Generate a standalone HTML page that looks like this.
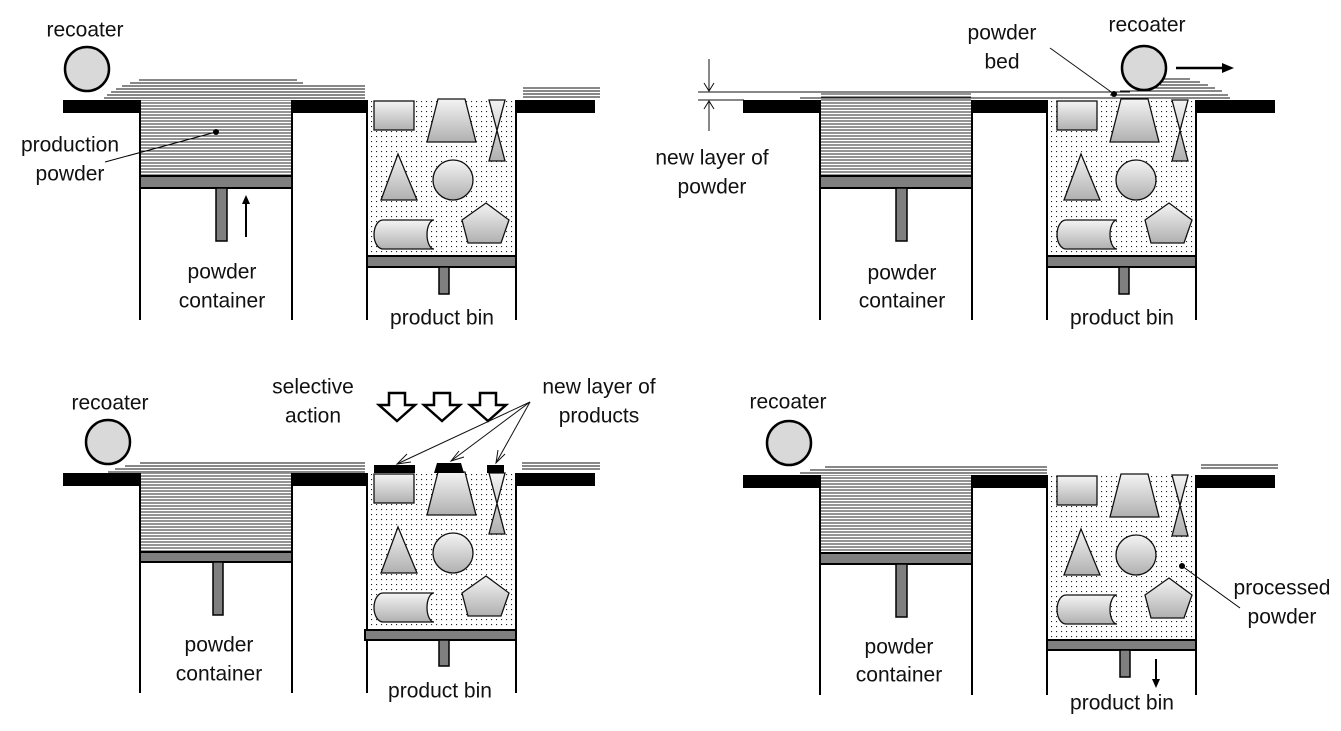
<!DOCTYPE html>
<html><head><meta charset="utf-8"><style>
html,body{margin:0;padding:0;background:#fff;}
svg{display:block;}
text{font-family:"Liberation Sans",sans-serif;font-size:21px;fill:#111;text-anchor:middle;dominant-baseline:central;}
</style></head><body>
<svg width="1341" height="731" viewBox="0 0 1341 731" xmlns="http://www.w3.org/2000/svg">
<defs>
<pattern id="dots" width="5" height="5" patternUnits="userSpaceOnUse">
<rect x="1" y="1" width="1.1" height="1.1" fill="#222"/>
</pattern>
<pattern id="hatch" width="6" height="3" patternUnits="userSpaceOnUse">
<line x1="0" y1="1" x2="6" y2="1" stroke="#111" stroke-width="0.9"/>
</pattern>
<linearGradient id="gr" x1="0" y1="0" x2="0" y2="1">
<stop offset="0" stop-color="#f4f4f4"/><stop offset="1" stop-color="#b0b0b0"/>
</linearGradient>
<g id="shp" stroke="#111" stroke-width="1.3" fill="url(#gr)">
<rect x="374" y="101" width="40" height="29"/>
<polygon points="438,99 465,99 476,142 427,142"/>
<polygon points="489,100 505,100 489,161 505,161"/>
<polygon points="398,154 381,200 417,200"/>
<circle cx="453" cy="180" r="20"/>
<polygon points="486,203 509,220 501,243 468,243 462,220"/>
<path d="M383,220 H434 A7,14.5 0 0 0 434,249 H383 A9,14.5 0 0 1 383,220 Z"/>
</g>
<g id="frame">
<rect x="63" y="100" width="77" height="13" fill="#000"/>
<rect x="292" y="100" width="75" height="13" fill="#000"/>
<rect x="517" y="100" width="78" height="13" fill="#000"/>
<line x1="140" y1="100" x2="140" y2="320" stroke="#000" stroke-width="2"/>
<line x1="292" y1="100" x2="292" y2="320" stroke="#000" stroke-width="2"/>
<line x1="367" y1="100" x2="367" y2="320" stroke="#000" stroke-width="2"/>
<line x1="516" y1="100" x2="516" y2="320" stroke="#000" stroke-width="2"/>
</g>
</defs>

<!-- TOP LEFT -->
<g>
<rect x="141" y="100" width="150" height="76" fill="url(#hatch)"/>
<rect x="368" y="100" width="147" height="157" fill="url(#dots)"/>
<use href="#frame"/>
<use href="#shp"/>
<rect x="140" y="176" width="152" height="12" fill="#7f7f7f" stroke="#000" stroke-width="2"/>
<rect x="216" y="188" width="11" height="53" fill="#7f7f7f" stroke="#000" stroke-width="1.5"/>
<rect x="367" y="256" width="149" height="11" fill="#7f7f7f" stroke="#000" stroke-width="2"/>
<rect x="439" y="267" width="10" height="27" fill="#7f7f7f" stroke="#000" stroke-width="1.5"/>
<line x1="246" y1="237" x2="246" y2="202" stroke="#000" stroke-width="2"/>
<polygon points="246,195 242,204 250,204" fill="#000"/>
<g stroke="#111" stroke-width="1">
<line x1="139" y1="80" x2="297" y2="80"/><line x1="130" y1="83" x2="303" y2="83"/>
<line x1="122" y1="86" x2="365" y2="86"/><line x1="116" y1="89" x2="365" y2="89"/>
<line x1="111" y1="92" x2="365" y2="92"/><line x1="107" y1="95" x2="365" y2="95"/>
<line x1="104" y1="98" x2="365" y2="98"/>
<line x1="523" y1="88" x2="600" y2="88"/><line x1="523" y1="91" x2="600" y2="91"/>
<line x1="523" y1="94" x2="600" y2="94"/><line x1="523" y1="97" x2="600" y2="97"/>
</g>
<circle cx="87" cy="69" r="22" fill="#d9d9d9" stroke="#000" stroke-width="2.5"/>
<line x1="105" y1="162" x2="216" y2="132" stroke="#000" stroke-width="1"/>
<circle cx="216" cy="132" r="3" fill="#000"/>
<text x="85" y="30">recoater</text>
<text x="70" y="145">production</text>
<text x="70" y="174">powder</text>
<text x="222" y="272">powder</text>
<text x="222" y="301">container</text>
<text x="442" y="318">product bin</text>
</g>

<!-- TOP RIGHT -->
<g transform="translate(680,0)">
<rect x="141" y="92" width="150" height="84" fill="url(#hatch)"/>
<rect x="368" y="100" width="147" height="157" fill="url(#dots)"/>
<use href="#frame"/>
<use href="#shp" transform="translate(3,0)"/>
<rect x="140" y="176" width="152" height="12" fill="#7f7f7f" stroke="#000" stroke-width="2"/>
<rect x="216" y="188" width="11" height="53" fill="#7f7f7f" stroke="#000" stroke-width="1.5"/>
<rect x="367" y="256" width="149" height="11" fill="#7f7f7f" stroke="#000" stroke-width="2"/>
<rect x="439" y="267" width="10" height="27" fill="#7f7f7f" stroke="#000" stroke-width="1.5"/>
</g>
<g stroke="#111" stroke-width="1">
<line x1="698" y1="92" x2="1130" y2="92"/>
<line x1="698" y1="100" x2="744" y2="100"/>
<line x1="800" y1="98" x2="1230" y2="98"/>
<line x1="1150" y1="79" x2="1190" y2="79"/><line x1="1155" y1="82" x2="1200" y2="82"/>
<line x1="1160" y1="85" x2="1208" y2="85"/><line x1="1140" y1="88" x2="1215" y2="88"/>
<line x1="1120" y1="91" x2="1222" y2="91"/><line x1="1110" y1="95" x2="1228" y2="95"/>
<line x1="709" y1="59" x2="709" y2="91"/><line x1="709" y1="101" x2="709" y2="131"/>
<polyline points="704,83 709,91 714,83" fill="none"/>
<polyline points="704,109 709,101 714,109" fill="none"/>
<line x1="1050" y1="48" x2="1114" y2="94"/>
</g>
<circle cx="1114" cy="94" r="3" fill="#000"/>
<circle cx="1144" cy="68" r="22" fill="#d9d9d9" stroke="#000" stroke-width="2.5"/>
<line x1="1176" y1="68" x2="1224" y2="68" stroke="#000" stroke-width="2.5"/>
<polygon points="1234,68 1222,63 1222,73" fill="#000"/>
<text x="1147" y="25">recoater</text>
<text x="1002" y="33">powder</text>
<text x="1002" y="62">bed</text>
<text x="712" y="158">new layer of</text>
<text x="712" y="187">powder</text>
<text x="902" y="273">powder</text>
<text x="902" y="301">container</text>
<text x="1122" y="318">product bin</text>

<!-- BOTTOM LEFT -->
<g transform="translate(0,373)">
<rect x="141" y="100" width="150" height="79" fill="url(#hatch)"/>
<rect x="368" y="100" width="147" height="157" fill="url(#dots)"/>
<use href="#frame"/>
<use href="#shp"/>
<rect x="140" y="179" width="152" height="10" fill="#7f7f7f" stroke="#000" stroke-width="2"/>
<rect x="213" y="189" width="10" height="53" fill="#7f7f7f" stroke="#000" stroke-width="1.5"/>
<rect x="365" y="257" width="151" height="10" fill="#7f7f7f" stroke="#000" stroke-width="2"/>
<rect x="439" y="267" width="10" height="26" fill="#7f7f7f" stroke="#000" stroke-width="1.5"/>
<rect x="374" y="92" width="41" height="8" fill="#000"/>
<polygon points="437,90 461,90 464,100 434,100" fill="#000"/>
<rect x="487" y="92" width="17" height="8" fill="#000"/>
<g stroke="#111" stroke-width="1">
<line x1="140" y1="90" x2="365" y2="90"/><line x1="125" y1="93" x2="365" y2="93"/>
<line x1="115" y1="96" x2="365" y2="96"/><line x1="108" y1="99" x2="365" y2="99"/>
<line x1="522" y1="90" x2="600" y2="90"/><line x1="522" y1="93" x2="600" y2="93"/>
<line x1="522" y1="96" x2="600" y2="96"/>
</g>
</g>
<circle cx="108" cy="442" r="22" fill="#d9d9d9" stroke="#000" stroke-width="2.5"/>
<g fill="#fff" stroke="#000" stroke-width="2.5">
<polygon points="389,393 405,393 405,405 415,405 397,421 379,405 389,405"/>
<polygon points="434,393 450,393 450,405 460,405 442,421 424,405 434,405"/>
<polygon points="480,393 496,393 496,405 506,405 488,421 470,405 480,405"/>
</g>
<g stroke="#111" stroke-width="1" fill="none">
<line x1="530" y1="402" x2="397" y2="464"/><polyline points="407,454 397,464 411,462"/>
<line x1="530" y1="402" x2="451" y2="461"/><polyline points="459,451 451,461 464,457"/>
<line x1="530" y1="402" x2="496" y2="463"/><polyline points="498,450 496,463 505,454"/>
</g>
<text x="110" y="403">recoater</text>
<text x="313" y="387">selective</text>
<text x="313" y="416">action</text>
<text x="599" y="387">new layer of</text>
<text x="599" y="416">products</text>
<text x="219" y="645">powder</text>
<text x="219" y="674">container</text>
<text x="440" y="691">product bin</text>

<!-- BOTTOM RIGHT -->
<g transform="translate(680,375)">
<rect x="141" y="100" width="150" height="78" fill="url(#hatch)"/>
<rect x="368" y="100" width="147" height="165" fill="url(#dots)"/>
<use href="#frame"/>
<use href="#shp" transform="translate(3,0)"/>
<rect x="140" y="178" width="152" height="11" fill="#7f7f7f" stroke="#000" stroke-width="2"/>
<rect x="216" y="189" width="11" height="53" fill="#7f7f7f" stroke="#000" stroke-width="1.5"/>
<rect x="367" y="265" width="149" height="10" fill="#7f7f7f" stroke="#000" stroke-width="2"/>
<rect x="440" y="275" width="10" height="27" fill="#7f7f7f" stroke="#000" stroke-width="1.5"/>
<line x1="476" y1="284" x2="476" y2="306" stroke="#000" stroke-width="2"/>
<polygon points="476,313 472,304 480,304" fill="#000"/>
<g stroke="#111" stroke-width="1">
<line x1="145" y1="92" x2="367" y2="92"/><line x1="130" y1="95" x2="367" y2="95"/>
<line x1="120" y1="98" x2="367" y2="98"/>
<line x1="521" y1="90" x2="598" y2="90"/><line x1="521" y1="93" x2="598" y2="93"/>
</g>
<line x1="502" y1="191" x2="560" y2="233" stroke="#000" stroke-width="1"/>
<circle cx="502" cy="191" r="3" fill="#000"/>
</g>
<circle cx="789" cy="443" r="22" fill="#d9d9d9" stroke="#000" stroke-width="2.5"/>
<text x="788" y="402">recoater</text>
<text x="1282" y="588">processed</text>
<text x="1282" y="617">powder</text>
<text x="899" y="647">powder</text>
<text x="899" y="675">container</text>
<text x="1122" y="703">product bin</text>
</svg>
</body></html>
